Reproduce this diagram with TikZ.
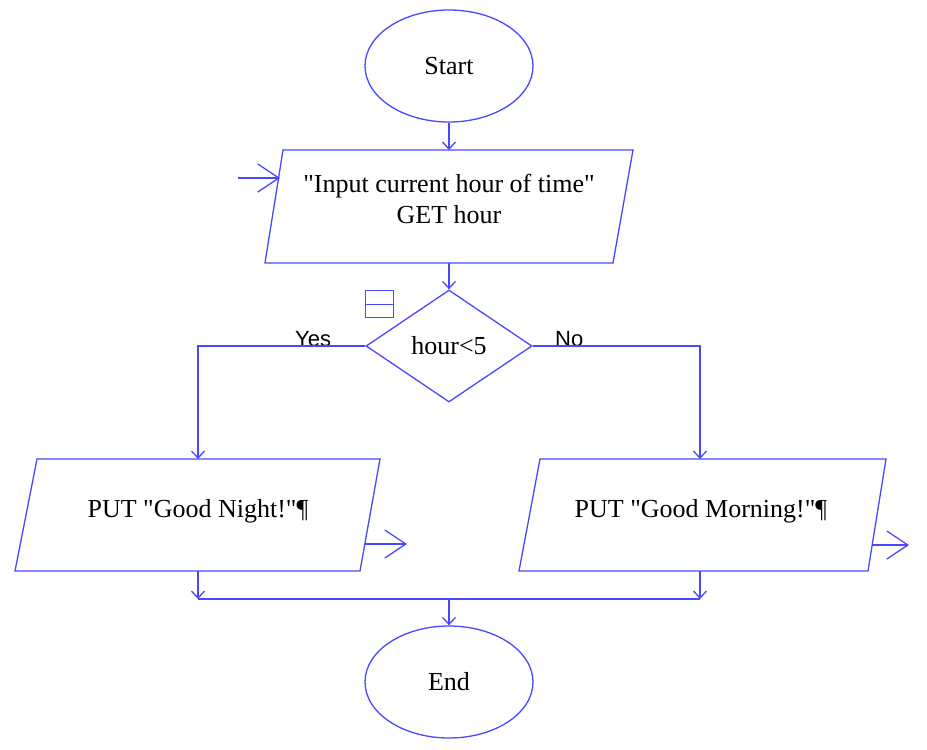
\documentclass[tikz,border=0pt]{standalone}
\usepackage{fontspec}
\setmainfont{Liberation Serif}[Ligatures=TeXOff]
\newfontfamily\arialf{Liberation Sans}
\usetikzlibrary{shapes.geometric,arrows.meta}
\definecolor{fcblue}{RGB}{72,72,255}
\begin{document}
\begin{tikzpicture}[x=1pt,y=-1pt,
  line/.style={draw=fcblue,line width=1.3pt},
  arr/.style={line,-{Straight Barb[length=7pt,width=13pt]}},
  bigarr/.style={line,-{Straight Barb[length=21pt,width=28pt]}},
  mainfont/.style={font=\fontsize{26}{31}\selectfont},
  term/.style={ellipse,line,minimum width=168pt,minimum height=112pt,inner sep=0pt,mainfont},
  decision/.style={diamond,line,minimum width=166pt,minimum height=112pt,inner sep=0pt,mainfont},
  txt/.style={mainfont,inner sep=0pt,anchor=base},
  lab/.style={font=\arialf\fontsize{22}{26}\selectfont,inner sep=0pt,anchor=base west},
  iobox/.style={line,line join=miter}
]
\useasboundingbox (0,0) rectangle (927,750);

% terminals
\node[term] (start) at (449,66) {Start};
\node[term] (end) at (449,682) {End};

% input parallelogram
\coordinate (inTL) at (283,150);
\coordinate (inTR) at (633,150);
\coordinate (inBR) at (613,263);
\coordinate (inBL) at (265,263);
\draw[iobox] (inTL) -- (inTR) -- (inBR) -- (inBL) -- cycle;
\coordinate (inN) at (449,150);
\coordinate (inS) at (449,263);
\node[txt] (inT1) at (449,192) {"Input current hour of time"};
\node[txt] (inT2) at (449,223) {GET hour};
\coordinate (inL) at (280,178);
\coordinate (inLout) at (238,178);

% decision
\node[decision] (dec) at (449,346) {hour<5};
\node[draw=fcblue,line width=1.2pt,minimum width=28pt,minimum height=27pt,inner sep=0pt,anchor=north west] (icon) at (365,290) {};
\draw[draw=fcblue,line width=1.2pt] (icon.west) -- (icon.east);
\node[lab] (yes) at (295,346) {Yes};
\node[lab] (no) at (555,346) {No};

% left output
\coordinate (gnTL) at (37,459);
\coordinate (gnTR) at (380,459);
\coordinate (gnBR) at (360,571);
\coordinate (gnBL) at (15,571);
\draw[iobox] (gnTL) -- (gnTR) -- (gnBR) -- (gnBL) -- cycle;
\coordinate (gnN) at (198,459);
\coordinate (gnS) at (198,571);
\node[txt] (gnT) at (198,517) {PUT "Good Night!"¶};
\coordinate (gnR) at (365,544);
\coordinate (gnRout) at (407,544);

% right output
\coordinate (gmTL) at (540,459);
\coordinate (gmTR) at (886,459);
\coordinate (gmBR) at (868,571);
\coordinate (gmBL) at (519,571);
\draw[iobox] (gmTL) -- (gmTR) -- (gmBR) -- (gmBL) -- cycle;
\coordinate (gmN) at (700,459);
\coordinate (gmS) at (700,571);
\node[txt] (gmT) at (701,517) {PUT "Good Morning!"¶};
\coordinate (gmR) at (872,545);
\coordinate (gmRout) at (909,545);

% merge
\coordinate (mergeL) at (198,599);
\coordinate (mergeR) at (700,599);
\coordinate (mergeC) at (449,599);

% connectors
\draw[arr] (start.south) -- (inN);
\draw[bigarr] (inLout) -- (inL);
\draw[arr] (inS) -- (dec.north);
\draw[arr] (dec.west) -| (gnN);
\draw[arr] (dec.east) -| (gmN);
\draw[bigarr] (gnR) -- (gnRout);
\draw[bigarr] (gmR) -- (gmRout);
\draw[arr] (gnS) -- (mergeL);
\draw[arr] (gmS) -- (mergeR);
\draw[line] (mergeL) -- (mergeR);
\draw[arr] (mergeC) -- (end.north);
\end{tikzpicture}
\end{document}
